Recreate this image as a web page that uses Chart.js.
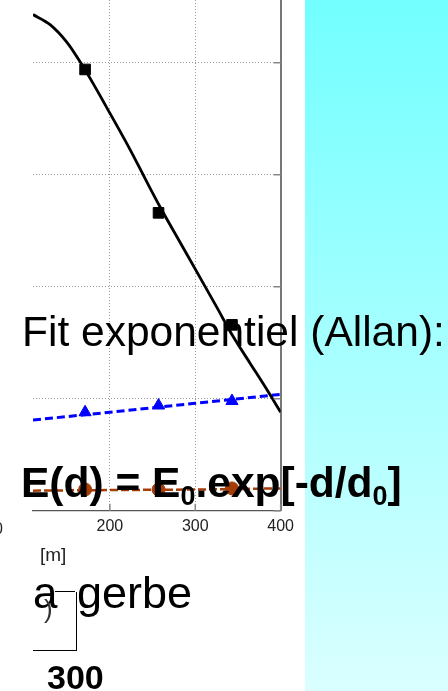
<!DOCTYPE html>
<html lang="fr">
<head>
    <meta charset="UTF-8" />
    <title>Fit exponentiel (Allan)</title>

    <!-- Load Chart.js -->
    <script src="https://cdn.jsdelivr.net/npm/chart.js"></script>

    <style>
        body {
            margin: 0;
            width: 448px;
            height: 691px;
            overflow: hidden;
            background: #fff;
            position: relative;
            font-family: "Liberation Sans", Arial, sans-serif;
        }

        #chart {
            position: absolute;
            left: 0;
            top: 0;
        }

        .panel {
            position: absolute;
            left: 305px;
            top: 0;
            width: 143px;
            height: 691px;
            background: linear-gradient(to bottom, #72ffff, #daffff);
        }

        .txt {
            position: absolute;
            white-space: nowrap;
            color: #000;
        }

        .line {
            position: absolute;
            background: #000;
        }
    </style>
</head>
<body>
    <canvas id="chart" width="300" height="552"></canvas>
    <div class="panel"></div>

    <!-- slide text over the chart -->
    <div class="txt" style="left:22px; top:311px; font-size:42.5px; line-height:42px;">Fit exponentiel (Allan):</div>
    <div class="txt" style="left:21px; top:462px; font-size:42.5px; line-height:42px; font-weight:bold;">E(d) = E<span style="font-size:27px; vertical-align:-8px;">0</span>.exp[-d/d<span style="font-size:27px; vertical-align:-8px;">0</span>]</div>
    <div class="txt" style="left:-6px; top:519px; font-size:16px; line-height:19px; color:#222;">0</div>
    <div class="txt" style="left:40px; top:545px; font-size:19px; line-height:19px; color:#222;">[m]</div>
    <div class="txt" style="left:33px; top:572px; font-size:44px; line-height:42px;">a</div>
    <div class="txt" style="left:77px; top:572px; font-size:45px; line-height:42px;">gerbe</div>
    <div class="txt" style="left:44px; top:596px; font-size:26px; line-height:26px; color:#333;">)</div>
    <div class="line" style="left:55px; top:591px; width:20px; height:1px;"></div>
    <div class="line" style="left:76px; top:592px; width:1px; height:58px;"></div>
    <div class="line" style="left:33px; top:650px; width:44px; height:1px;"></div>
    <div class="txt" style="left:47px; top:660px; font-size:34px; line-height:34px; font-weight:bold;">300</div>

    <script>
        // measured points (distance [m])
        const distances = [171, 257, 343];
        const squareVals = [39.4, 26.6, 16.6];
        const triangleVals = [8.8, 9.4, 9.8];
        const circleVals = [1.9, 1.9, 2.0];

        // fitted curves
        const fitX = [110, 130, 150, 165, 183, 200, 224, 241, 259, 282, 305, 325, 344, 364, 384, 400];
        const fitY = [44.3, 43.4, 41.8, 40.1, 37.8, 35.5, 32.2, 29.7, 27.1, 24.0, 20.9, 18.2, 15.6, 13.2, 10.8, 8.8];
        const blueFitX = [110, 200, 300, 400];
        const blueFitY = [8.1, 8.8, 9.6, 10.4];
        const brownFitX = [110, 200, 300, 400];
        const brownFitY = [1.8, 1.85, 1.9, 2.0];

        // tick values
        const xTicks = [200, 300, 400];
        const yTicks = [0, 10, 20, 30, 40];

        const toXY = (xs, ys) => xs.map((x, i) => ({ x: x, y: ys[i] }));

        // matlab style inward tick marks on right and bottom borders
        const innerTicks = {
            id: 'innerTicks',
            afterDatasetsDraw(chart) {
                const ctx = chart.ctx;
                const area = chart.chartArea;
                const xs = chart.scales.x;
                const ys = chart.scales.y;
                ctx.save();
                ctx.strokeStyle = '#888';
                ctx.lineWidth = 1.5;
                yTicks.forEach(v => {
                    const py = ys.getPixelForValue(v);
                    ctx.beginPath();
                    ctx.moveTo(area.right - 7, py);
                    ctx.lineTo(area.right, py);
                    ctx.stroke();
                });
                xTicks.forEach(v => {
                    const px = xs.getPixelForValue(v);
                    ctx.beginPath();
                    ctx.moveTo(px, area.bottom);
                    ctx.lineTo(px, area.bottom - 7);
                    ctx.stroke();
                });
                ctx.restore();
            }
        };

        const ctx = document.getElementById('chart').getContext('2d');
        const chart = new Chart(ctx, {
            type: 'line',
            data: {
                datasets: [
                    {
                        data: toXY(fitX, fitY),
                        borderColor: '#000',
                        borderWidth: 2.8,
                        pointRadius: 0,
                        cubicInterpolationMode: 'monotone'
                    },
                    {
                        data: toXY(distances, squareVals),
                        showLine: false,
                        pointStyle: 'rect',
                        pointRadius: 7.5,
                        backgroundColor: '#000',
                        borderColor: '#000'
                    },
                    {
                        data: toXY(blueFitX, blueFitY),
                        borderColor: '#0000ff',
                        borderWidth: 3,
                        borderDash: [8, 4],
                        pointRadius: 0
                    },
                    {
                        data: toXY(distances, triangleVals),
                        showLine: false,
                        pointStyle: 'triangle',
                        pointRadius: 7,
                        backgroundColor: '#0000ff',
                        borderColor: '#0000ff'
                    },
                    {
                        data: toXY(brownFitX, brownFitY),
                        borderColor: '#a63c06',
                        borderWidth: 2.5,
                        borderDash: [8, 3],
                        pointRadius: 0
                    },
                    {
                        data: toXY(distances, circleVals),
                        showLine: false,
                        pointStyle: 'circle',
                        pointRadius: 6.5,
                        backgroundColor: '#a63c06',
                        borderColor: '#a63c06'
                    }
                ]
            },
            options: {
                responsive: false,
                animation: false,
                layout: { autoPadding: false, padding: { left: 33, right: 19, top: 0, bottom: 10 } },
                plugins: {
                    legend: { display: false },
                    tooltip: { enabled: false }
                },
                scales: {
                    x: {
                        type: 'linear',
                        min: 110,
                        max: 400,
                        afterBuildTicks: axis => { axis.ticks = xTicks.map(v => ({ value: v })); },
                        grid: { color: '#999', lineWidth: 1, drawTicks: false },
                        border: { display: true, color: '#555', width: 1.2, dash: [1, 2] },
                        ticks: {
                            padding: 6,
                            color: '#222',
                            font: { family: 'Liberation Sans', size: 16 }
                        }
                    },
                    y: {
                        position: 'right',
                        min: 0,
                        max: 45.6,
                        afterBuildTicks: axis => { axis.ticks = yTicks.map(v => ({ value: v })); },
                        grid: { color: '#999', lineWidth: 1, drawTicks: false },
                        border: { display: true, color: '#777', width: 2, dash: [1, 2] },
                        ticks: { display: false }
                    }
                }
            },
            plugins: [innerTicks]
        });
    </script>
</body>
</html>
